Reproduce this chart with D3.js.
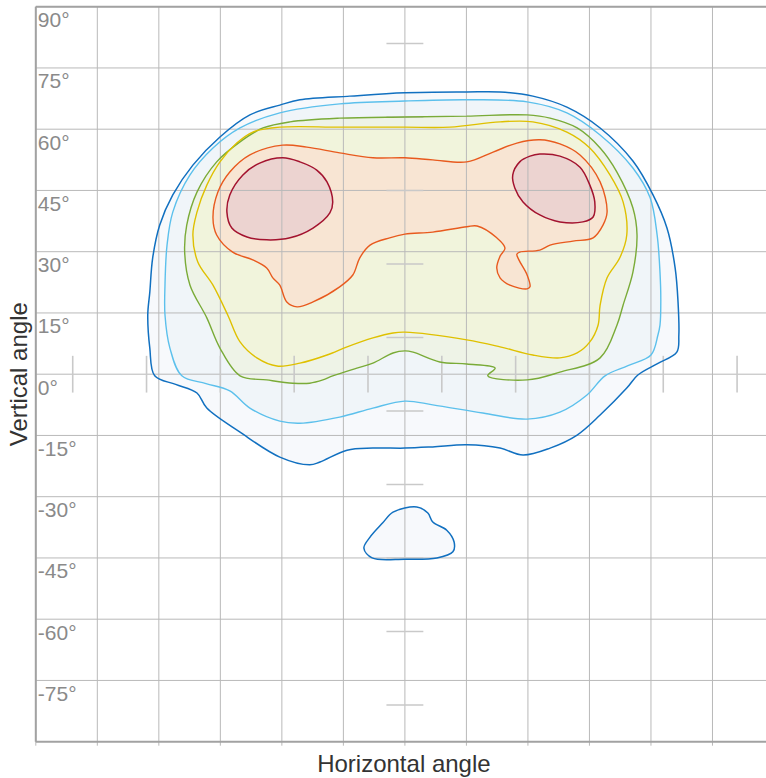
<!DOCTYPE html>
<html>
<head>
<meta charset="utf-8">
<script src="https://cdn.jsdelivr.net/npm/d3@7/dist/d3.min.js"></script>
<style>
  html, body { margin: 0; padding: 0; background: #fff; }
  svg { display: block; font-family: "Liberation Sans", Arial, sans-serif; }
</style>
</head>
<body>
<svg id="chart" width="766" height="778"></svg>
<script>
// Angle grid (degrees)
const xTicks = [-90, -75, -60, -45, -30, -15, 0, 15, 30, 45, 60, 75, 90];
const yTicks = [90, 75, 60, 45, 30, 15, 0, -15, -30, -45, -60, -75];
const yTickLabels = ["90°", "75°", "60°", "45°", "30°", "15°", "0°", "-15°", "-30°", "-45°", "-60°", "-75°"];
// Short cross marks along the 0° axes
const crossMarks = [-81, -63, -45, -27, -9, 9, 27, 45, 63, 81];
const crossHalf = 4.5;

// Iso-intensity contours, [horizontal°, vertical°]
const levelOuter = [
  [0, 68.9], [15.1, 69.1], [23.2, 69.1], [31.2, 68.1], [39.5, 65.4], [47.6, 60.3], [55.6, 52.2],
  [60.5, 43.9], [63.9, 35.8], [65.9, 26.0], [66.6, 17.7], [66.8, 9.6], [66.3, 5.4], [61.6, 2.6],
  [56.8, -0.2], [54.1, -3.4], [47.6, -10.0], [42.0, -14.9], [35.4, -18.1], [28.8, -19.8],
  [23.2, -18.1], [15.1, -17.3], [6.8, -17.8], [0, -18.1], [-7.8, -18.1], [-14.1, -18.6],
  [-20.7, -21.5], [-23.2, -22.2], [-30.5, -20.3], [-40.2, -14.2], [-48.3, -8.3], [-50.7, -4.6],
  [-55.9, -2.5], [-61.0, -0.4], [-62.2, 6.4], [-62.7, 14.5], [-62.2, 20.1], [-61.5, 28.5],
  [-59.8, 36.5], [-56.6, 43.9], [-51.7, 51.2], [-45.1, 58.1], [-37.8, 63.5], [-30.5, 65.9],
  [-25.6, 67.2], [-13.4, 68.1]
];
const levelOuterIsland = [
  [-2.9, -33.8], [2.9, -32.5], [5.6, -34.0], [6.8, -36.2], [10.2, -38.2], [12.0, -41.1],
  [11.7, -43.5], [7.8, -45.0], [0, -45.3], [-8.0, -45.0], [-10.0, -42.6], [-8.5, -39.9], [-5.4, -36.4]
];
const levelSecond = [
  [0, 66.9], [15.1, 67.2], [29.8, 66.7], [39.5, 64.0], [47.6, 58.6], [55.6, 50.5], [59.8, 43.2],
  [61.5, 34.1], [62.2, 25.0], [62.4, 18.2], [62.2, 12.0], [61.7, 9.6], [60.0, 4.7], [54.4, 2.1],
  [48.8, -0.4], [44.4, -5.1], [37.8, -9.3], [29.8, -11.0], [19.0, -9.5], [6.8, -7.5], [0, -6.6],
  [-7.8, -8.3], [-15.9, -10.5], [-25.6, -12.0], [-30.5, -11.5], [-37.8, -8.3], [-42.7, -4.1],
  [-48.5, -2.3], [-54.4, -0.4], [-57.3, 6.4], [-58.5, 14.5], [-58.5, 21.8], [-58.0, 31.6],
  [-56.6, 39.7], [-52.4, 48.8], [-46.8, 55.4], [-40.2, 60.3], [-30.5, 64.0], [-15.9, 66.2]
];
const levelThird = [
  [0, 63.0], [15.1, 63.2], [29.8, 63.5], [35.4, 62.7], [42.0, 60.3], [47.6, 55.4], [51.7, 49.5],
  [55.6, 40.7], [56.6, 34.1], [55.6, 25.0], [53.2, 16.9], [51.7, 12.0], [47.6, 4.0], [37.8, 0.5],
  [29.8, -1.4], [20.2, -0.4], [22.0, 1.5], [15.1, 2.5], [8.5, 3.0], [2.0, 5.4], [0, 5.7],
  [-2.9, 5.2], [-7.8, 2.7], [-11.7, 1.5], [-17.6, -0.4], [-20.0, -1.4], [-23.2, -2.2],
  [-27.3, -2.2], [-33.7, -1.4], [-40.2, -0.4], [-45.1, 6.4], [-48.3, 13.8], [-52.4, 21.8],
  [-53.7, 29.9], [-53.2, 36.5], [-50.7, 44.6], [-45.9, 52.0], [-40.2, 56.9], [-34.6, 60.3],
  [-28.0, 61.8], [-15.9, 62.7]
];
const levelFourth = [
  [0, 60.5], [11.0, 60.5], [23.2, 61.8], [31.2, 61.8], [39.5, 59.3], [45.1, 55.4], [50.0, 48.8],
  [53.2, 42.2], [54.1, 34.1], [52.4, 28.5], [49.3, 23.6], [47.6, 16.9], [47.1, 12.0], [45.1, 7.9],
  [42.0, 5.2], [37.8, 4.0], [31.2, 4.7], [23.2, 6.7], [15.1, 8.4], [0, 10.3], [-2.9, 10.1],
  [-7.8, 8.9], [-14.1, 6.7], [-19.0, 4.7], [-25.6, 2.7], [-31.2, 2.0], [-36.1, 4.0], [-40.2, 7.9],
  [-43.2, 14.5], [-46.8, 21.8], [-50.5, 27.5], [-51.7, 34.1], [-50.7, 39.7], [-48.3, 46.3],
  [-45.1, 52.0], [-41.0, 56.6], [-37.1, 59.3], [-30.5, 60.5], [-15.9, 60.5]
];
const levelFifth = [
  [0, 53.0], [6.8, 52.5], [15.1, 52.0], [21.5, 54.4], [27.3, 56.6], [32.9, 57.4], [37.8, 56.4],
  [42.7, 53.7], [47.6, 47.1], [49.3, 39.7], [48.3, 36.5], [45.9, 33.4], [41.0, 32.6], [35.4, 31.6],
  [32.9, 30.4], [28.0, 29.9], [27.3, 29.4], [27.8, 28.0], [29.8, 24.3], [30.5, 21.4], [29.8, 20.9],
  [25.6, 21.8], [23.2, 23.6], [22.4, 26.0], [23.2, 28.9], [24.4, 30.9], [22.4, 33.4], [17.6, 36.3],
  [15.1, 36.1], [6.8, 34.8], [0, 34.3], [-3.7, 33.4], [-8.5, 31.6], [-11.0, 28.5], [-12.7, 24.3],
  [-15.9, 21.4], [-22.4, 17.7], [-26.3, 16.5], [-28.8, 17.7], [-30.5, 21.8], [-32.2, 23.6],
  [-33.7, 26.0], [-37.1, 28.0], [-42.0, 29.9], [-45.9, 34.1], [-46.8, 38.3], [-45.6, 44.6],
  [-42.7, 49.5], [-37.8, 53.7], [-29.8, 56.1], [-23.9, 55.6], [-15.9, 54.2], [-7.8, 53.0]
];
const levelPeakLeft = [
  [-29.8, 53.0], [-25.6, 52.0], [-21.5, 50.0], [-19.0, 47.1], [-17.6, 42.2], [-18.3, 39.5],
  [-22.4, 35.8], [-28.0, 33.4], [-33.7, 32.9], [-38.5, 33.6], [-42.2, 35.8], [-43.4, 39.7],
  [-42.7, 43.9], [-39.5, 48.8], [-35.4, 51.7]
];
const levelPeakRight = [
  [32.9, 53.9], [37.8, 53.4], [42.7, 50.7], [45.1, 46.3], [46.3, 42.2], [45.9, 38.5], [43.4, 37.3],
  [37.8, 37.3], [32.9, 39.0], [28.8, 42.2], [26.8, 45.6], [26.3, 48.8], [28.0, 52.0], [30.5, 53.4]
];

// Drawing order, outermost first
const levels = [
  { rings: [levelOuter, levelOuterIsland], stroke: "#1170c0", fill: "#f7f9fc", width: 1.5 },
  { rings: [levelSecond], stroke: "#5cc0ec", fill: "#f0f5f9", width: 1.4 },
  { rings: [levelThird], stroke: "#7aab38", fill: "#eef3e7", width: 1.4 },
  { rings: [levelFourth], stroke: "#dfc000", fill: "#f1f4dc", width: 1.4 },
  { rings: [levelFifth], stroke: "#e85a1e", fill: "#f8e5d3", width: 1.4 },
  { rings: [levelPeakLeft, levelPeakRight], stroke: "#a3132f", fill: "#ecd3d0", width: 1.5 }
];

const svg = d3.select("#chart");
const W = 766, H = 778;
const x = d3.scaleLinear().domain([-90, 90]).range([35.8, 774]);
const y = d3.scaleLinear().domain([-90, 90]).range([741.7, 6.7]);

svg.append("defs").append("clipPath").attr("id", "plotClip")
  .append("rect").attr("x", x(-90)).attr("y", y(90))
  .attr("width", W - x(-90)).attr("height", y(-90) - y(90));

const plot = svg.append("g").attr("clip-path", "url(#plotClip)");

const line = d3.line()
  .x(d => x(d[0])).y(d => y(d[1]))
  .curve(d3.curveCatmullRomClosed.alpha(0.5));

// Fills
levels.forEach(lv => {
  lv.rings.forEach(r => {
    plot.append("path").attr("d", line(r)).attr("fill", lv.fill).attr("stroke", "none");
  });
});

// Grid
const grid = svg.append("g").attr("stroke", "#b9b9b9").attr("stroke-width", 1).attr("fill", "none");
xTicks.forEach(t => {
  grid.append("line").attr("x1", x(t)).attr("x2", x(t))
    .attr("y1", y(90)).attr("y2", y(-90) + 4);
});
yTicks.forEach(t => {
  grid.append("line").attr("x1", x(-90)).attr("x2", W)
    .attr("y1", y(t)).attr("y2", y(t));
});

// Cross marks
const marks = svg.append("g").attr("stroke", "#c9c9c9").attr("stroke-width", 1.6);
crossMarks.forEach(m => {
  marks.append("line").attr("x1", x(m)).attr("x2", x(m))
    .attr("y1", y(crossHalf)).attr("y2", y(-crossHalf));
  marks.append("line").attr("x1", x(-crossHalf)).attr("x2", x(crossHalf))
    .attr("y1", y(m)).attr("y2", y(m));
});

// Frame
const frame = svg.append("g").attr("stroke", "#a2a2a2").attr("stroke-width", 2).attr("fill", "none");
frame.append("line").attr("x1", x(-90)).attr("x2", W).attr("y1", y(90)).attr("y2", y(90));
frame.append("line").attr("x1", x(-90)).attr("x2", W).attr("y1", y(-90)).attr("y2", y(-90));
frame.append("line").attr("x1", x(-90)).attr("x2", x(-90)).attr("y1", y(90)).attr("y2", y(-90));

// Contour lines
const strokes = svg.append("g").attr("clip-path", "url(#plotClip)");
levels.forEach(lv => {
  lv.rings.forEach(r => {
    strokes.append("path").attr("d", line(r)).attr("fill", "none")
      .attr("stroke", lv.stroke).attr("stroke-width", lv.width)
      .attr("stroke-linejoin", "round");
  });
});

// Vertical tick labels inside the plot
svg.append("g").selectAll("text").data(yTicks).join("text")
  .attr("x", x(-90) + 2)
  .attr("y", d => y(d) + 20.5)
  .attr("fill", "#8a8a8a")
  .attr("font-size", 21)
  .text((d, i) => yTickLabels[i]);

// Axis titles
svg.append("text")
  .attr("x", (x(-90) + x(90)) / 2 - 1).attr("y", 772)
  .attr("text-anchor", "middle")
  .attr("fill", "#333")
  .attr("font-size", 24)
  .text("Horizontal angle");

svg.append("text")
  .attr("transform", `translate(27, ${y(0)}) rotate(-90)`)
  .attr("text-anchor", "middle")
  .attr("fill", "#333")
  .attr("font-size", 24)
  .text("Vertical angle");
</script>
</body>
</html>
